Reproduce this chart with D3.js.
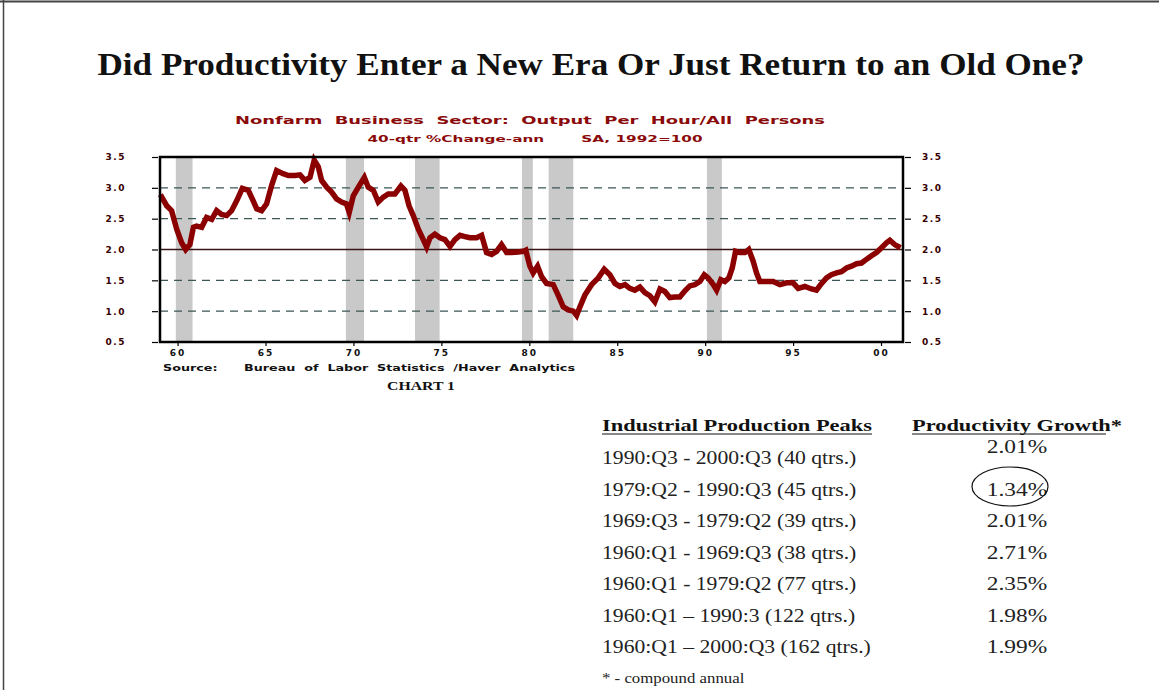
<!DOCTYPE html>
<html>
<head>
<meta charset="utf-8">
<script src="https://cdn.jsdelivr.net/npm/d3@7"></script>
<style>
  html, body { margin: 0; padding: 0; background: #fff; }
  svg { display: block; }
</style>
</head>
<body>
<svg id="chart" width="1159" height="690"></svg>
<script>
// Nonfarm business productivity, 40-quarter % change (annual rate)
const years = [
  1959.1, 1959.38, 1959.66, 1959.95, 1960.23, 1960.46, 1960.7, 1960.9, 1961.08, 1961.37,
  1961.65, 1961.94, 1962.22, 1962.5, 1962.79, 1963.07, 1963.36, 1963.68, 1964.02, 1964.3,
  1964.5, 1964.78, 1965.06, 1965.35, 1965.63, 1966.0, 1966.3, 1966.67, 1966.96, 1967.24,
  1967.53, 1967.77, 1968.0, 1968.19, 1968.48, 1968.76, 1969.04, 1969.33, 1969.6, 1969.76,
  1969.99, 1970.28, 1970.62, 1970.84, 1971.13, 1971.41, 1971.7, 1971.98, 1972.36, 1972.7,
  1972.93, 1973.16, 1973.4, 1973.69, 1973.97, 1974.16, 1974.35, 1974.63, 1974.92, 1975.2,
  1975.49, 1975.77, 1976.06, 1976.34, 1976.62, 1977.0, 1977.29, 1977.57, 1977.86, 1978.14,
  1978.42, 1978.71, 1978.99, 1979.37, 1979.66, 1979.8, 1980.03, 1980.22, 1980.47, 1980.7,
  1980.98, 1981.36, 1981.64, 1981.93, 1982.21, 1982.5, 1982.69, 1982.88, 1983.16, 1983.54,
  1983.92, 1984.26, 1984.58, 1984.87, 1985.15, 1985.44, 1985.72, 1986.0, 1986.29, 1986.57,
  1986.86, 1987.14, 1987.43, 1987.71, 1987.99, 1988.28, 1988.56, 1988.85, 1989.13, 1989.41,
  1989.7, 1989.95, 1990.17, 1990.46, 1990.65, 1990.89, 1991.12, 1991.35, 1991.54, 1991.73,
  1991.97, 1992.26, 1992.48, 1992.73, 1992.92, 1993.11, 1993.49, 1993.87, 1994.25, 1994.63,
  1995.0, 1995.29, 1995.67, 1996.05, 1996.33, 1996.62, 1996.9, 1997.18, 1997.47, 1997.75,
  1998.04, 1998.32, 1998.61, 1998.89, 1999.17, 1999.46, 1999.74, 2000.03, 2000.31, 2000.5,
  2000.78, 2000.97
];
const growth = [
  2.85, 2.71, 2.63, 2.33, 2.11, 2.0, 2.08, 2.36, 2.38, 2.36,
  2.52, 2.49, 2.63, 2.57, 2.55, 2.63, 2.79, 2.99, 2.96, 2.79,
  2.66, 2.63, 2.74, 3.04, 3.28, 3.23, 3.2, 3.2, 3.21, 3.12,
  3.17, 3.45, 3.34, 3.12, 3.01, 2.93, 2.82, 2.77, 2.74, 2.6,
  2.87, 3.01, 3.17, 3.01, 2.96, 2.77, 2.85, 2.9, 2.9, 3.03,
  2.96, 2.71, 2.55, 2.33, 2.16, 2.04, 2.19, 2.25, 2.19, 2.16,
  2.05, 2.16, 2.23, 2.21, 2.19, 2.19, 2.23, 1.95, 1.92, 1.97,
  2.08, 1.95, 1.95, 1.96, 1.97, 1.99, 1.73, 1.62, 1.73, 1.56,
  1.45, 1.43, 1.26, 1.07, 1.02, 1.0, 0.93, 1.07, 1.26, 1.43,
  1.54, 1.68, 1.59, 1.45, 1.4, 1.43, 1.37, 1.34, 1.39, 1.3,
  1.25, 1.15, 1.36, 1.32, 1.22, 1.23, 1.23, 1.33, 1.41, 1.43,
  1.48, 1.59, 1.54, 1.43, 1.34, 1.51, 1.48, 1.54, 1.7, 1.97,
  1.95, 1.95, 2.0, 1.81, 1.62, 1.48, 1.48, 1.48, 1.43, 1.46,
  1.46, 1.37, 1.4, 1.36, 1.34, 1.45, 1.54, 1.59, 1.62, 1.64,
  1.7, 1.73, 1.77, 1.78, 1.84, 1.9, 1.95, 2.03, 2.11, 2.15,
  2.08, 2.05
];

// Recession periods (shaded)
const recessionStart = [1959.9, 1969.57, 1973.5, 1979.58, 1981.1, 1990.1];
const recessionEnd   = [1960.85, 1970.6, 1974.9, 1980.2, 1982.5, 1990.95];

// Axis ticks
const yTicks = [0.5, 1.0, 1.5, 2.0, 2.5, 3.0, 3.5];
const yTickLabels = ["0.5", "1.0", "1.5", "2.0", "2.5", "3.0", "3.5"];
const xTicks = [1960, 1965, 1970, 1975, 1980, 1985, 1990, 1995, 2000];
const xTickLabels = ["60", "65", "70", "75", "80", "85", "90", "95", "00"];
const referenceLevel = 2.0;

// Table of cycle-to-cycle productivity growth
const periods = [
  "1990:Q3 - 2000:Q3 (40 qtrs.)",
  "1979:Q2 - 1990:Q3 (45 qtrs.)",
  "1969:Q3 - 1979:Q2 (39 qtrs.)",
  "1960:Q1 - 1969:Q3 (38 qtrs.)",
  "1960:Q1 - 1979:Q2 (77 qtrs.)",
  "1960:Q1 \u2013 1990:3 (122 qtrs.)",
  "1960:Q1 \u2013 2000:Q3 (162 qtrs.)"
];
const productivityGrowth = ["2.01%", "1.34%", "2.01%", "2.71%", "2.35%", "1.98%", "1.99%"];
const circledRow = 1;

const svg = d3.select("#chart");
const W = 1159, H = 690;

// Horizontal stretch applied to a text element after layout
function stretch(sel, k) {
  sel.each(function () {
    const w = this.getComputedTextLength();
    d3.select(this).attr("textLength", w * k).attr("lengthAdjust", "spacingAndGlyphs");
  });
}

// Page frame
svg.append("line").attr("x1", 0).attr("x2", W).attr("y1", 1.5).attr("y2", 1.5)
  .attr("stroke", "#444").attr("stroke-width", 2);
svg.append("line").attr("x1", 3.5).attr("x2", 3.5).attr("y1", 0).attr("y2", H)
  .attr("stroke", "#444").attr("stroke-width", 1.5);

// Main title
svg.append("text")
  .attr("x", 591).attr("y", 75)
  .attr("text-anchor", "middle")
  .attr("font-family", "'Liberation Serif', 'Times New Roman', serif")
  .attr("font-weight", "bold")
  .attr("font-size", 31)
  .attr("textLength", 987).attr("lengthAdjust", "spacingAndGlyphs")
  .attr("fill", "#111")
  .text("Did Productivity Enter a New Era Or Just Return to an Old One?");

// Plot geometry
const x = d3.scaleLinear().domain([1959, 2001.25]).range([160, 903]);
const y = d3.scaleLinear().domain([0.5, 3.5]).range([342, 157]);
const chartRed = "#8a0a0a";
const smallFont = "'DejaVu Sans', 'Liberation Sans', sans-serif";

// Chart headings
svg.append("text")
  .attr("x", 530).attr("y", 123.5).attr("text-anchor", "middle")
  .attr("font-family", smallFont).attr("font-weight", "bold").attr("font-size", 10)
  .attr("textLength", 590).attr("lengthAdjust", "spacingAndGlyphs")
  .attr("fill", chartRed)
  .attr("xml:space", "preserve")
  .text("Nonfarm  Business  Sector:  Output  Per  Hour/All  Persons");
svg.append("text")
  .attr("x", 535).attr("y", 142).attr("text-anchor", "middle")
  .attr("font-family", smallFont).attr("font-weight", "bold").attr("font-size", 9.5)
  .attr("textLength", 335).attr("lengthAdjust", "spacingAndGlyphs")
  .attr("fill", chartRed)
  .attr("xml:space", "preserve")
  .text("40-qtr %Change-ann       SA, 1992=100");

const plot = svg.append("g");

// Recession shading
plot.selectAll("rect.rec")
  .data(d3.range(recessionStart.length))
  .join("rect")
  .attr("class", "rec")
  .attr("x", i => x(recessionStart[i]))
  .attr("width", i => x(recessionEnd[i]) - x(recessionStart[i]))
  .attr("y", y(3.5)).attr("height", y(0.5) - y(3.5))
  .attr("fill", "#c9c9c9");

// Dashed gridlines
plot.selectAll("line.grid")
  .data(yTicks.filter(v => v !== referenceLevel && v !== 3.5 && v !== 0.5))
  .join("line")
  .attr("class", "grid")
  .attr("x1", x(1959)).attr("x2", x(2001.25))
  .attr("y1", d => y(d)).attr("y2", d => y(d))
  .attr("stroke", "#3d5656").attr("stroke-width", 1.2)
  .attr("stroke-dasharray", "8,6");

// Reference line at 2%
plot.append("line")
  .attr("x1", x(1959)).attr("x2", x(2001.25))
  .attr("y1", y(referenceLevel)).attr("y2", y(referenceLevel))
  .attr("stroke", "#3a1414").attr("stroke-width", 1.5);

// Productivity series
const line = d3.line()
  .x((d, i) => x(years[i]))
  .y(d => y(d));
plot.append("path")
  .datum(growth)
  .attr("d", line)
  .attr("fill", "none")
  .attr("stroke", "#8b0000")
  .attr("stroke-width", 5.5)
  .attr("stroke-linejoin", "miter")
  .attr("stroke-linecap", "square");

// Frame of the plot
plot.append("rect")
  .attr("x", x(1959)).attr("y", y(3.5))
  .attr("width", x(2001.25) - x(1959)).attr("height", y(0.5) - y(3.5))
  .attr("fill", "none").attr("stroke", "#000").attr("stroke-width", 2.5);

// Left and right value axes
const leftAxis = d3.axisLeft(y).tickValues(yTicks)
  .tickFormat((d, i) => yTickLabels[i]).tickSize(6).tickPadding(26);
const rightAxis = d3.axisRight(y).tickValues(yTicks)
  .tickFormat((d, i) => yTickLabels[i]).tickSize(6).tickPadding(11);
const gL = svg.append("g").attr("transform", `translate(${x(1959) - 2},0)`).call(leftAxis);
const gR = svg.append("g").attr("transform", `translate(${x(2001.25) + 2},0)`).call(rightAxis);
[gL, gR].forEach(g => {
  g.select(".domain").remove();
  g.selectAll(".tick line").attr("stroke", "#000").attr("stroke-width", 1.2);
  g.selectAll(".tick text")
    .attr("font-family", smallFont).attr("font-weight", "bold").attr("font-size", 9)
    .attr("letter-spacing", 1.5)
    .attr("fill", "#3a0000");
});

// Year axis
const bottomAxis = d3.axisBottom(x).tickValues(xTicks)
  .tickFormat((d, i) => xTickLabels[i]).tickSize(3).tickPadding(4);
const gB = svg.append("g").attr("transform", `translate(0,${y(0.5) + 1})`).call(bottomAxis);
gB.select(".domain").remove();
gB.selectAll(".tick line").attr("stroke", "#000").attr("stroke-width", 1.2);
gB.selectAll(".tick text")
  .attr("font-family", smallFont).attr("font-weight", "bold").attr("font-size", 9)
  .attr("letter-spacing", 2)
  .attr("fill", "#111");

// Source note and chart caption
svg.append("text")
  .attr("x", 163).attr("y", 370.5)
  .attr("font-family", smallFont).attr("font-weight", "bold").attr("font-size", 8.5)
  .attr("textLength", 412).attr("lengthAdjust", "spacingAndGlyphs")
  .attr("fill", "#111")
  .attr("xml:space", "preserve")
  .text("Source:      Bureau  of  Labor  Statistics  /Haver  Analytics");
svg.append("text")
  .attr("x", 421).attr("y", 390).attr("text-anchor", "middle")
  .attr("font-family", "'Liberation Serif', 'Times New Roman', serif")
  .attr("font-weight", "bold").attr("font-size", 13)
  .attr("textLength", 68).attr("lengthAdjust", "spacingAndGlyphs")
  .attr("fill", "#111")
  .text("CHART 1");

// Table
const serif = "'Liberation Serif', 'Times New Roman', serif";
const tableTop = 431, rowStep = 31.5;
const colA = 602, colB = 1017;

svg.append("text")
  .attr("x", colA).attr("y", tableTop)
  .attr("font-family", serif).attr("font-weight", "bold").attr("font-size", 17)
  .attr("textLength", 270).attr("lengthAdjust", "spacingAndGlyphs")
  .attr("fill", "#111")
  .text("Industrial Production Peaks");
svg.append("line").attr("x1", colA).attr("x2", colA + 270)
  .attr("y1", tableTop + 3).attr("y2", tableTop + 3)
  .attr("stroke", "#111").attr("stroke-width", 1.2);

svg.append("text")
  .attr("x", 912).attr("y", tableTop)
  .attr("font-family", serif).attr("font-weight", "bold").attr("font-size", 17)
  .attr("textLength", 210).attr("lengthAdjust", "spacingAndGlyphs")
  .attr("fill", "#111")
  .text("Productivity Growth*");
svg.append("line").attr("x1", 912).attr("x2", 1106)
  .attr("y1", tableTop + 3).attr("y2", tableTop + 3)
  .attr("stroke", "#111").attr("stroke-width", 1.2);

const rowY = i => tableTop + 33 + i * rowStep;

svg.selectAll("text.period")
  .data(periods)
  .join("text")
  .attr("class", "period")
  .attr("x", colA).attr("y", (d, i) => rowY(i))
  .attr("font-family", serif).attr("font-size", 18.5)
  .attr("fill", "#222")
  .text(d => d)
  .call(stretch, 1.17);

svg.selectAll("text.pct")
  .data(productivityGrowth)
  .join("text")
  .attr("class", "pct")
  .attr("x", colB).attr("y", (d, i) => i === 0 ? rowY(i) - 11 : rowY(i))
  .attr("text-anchor", "middle")
  .attr("font-family", serif).attr("font-size", 18)
  .attr("fill", "#222")
  .text(d => d)
  .call(stretch, 1.3);

// Highlighted 1979-1990 figure
svg.append("ellipse")
  .attr("cx", colB - 7).attr("cy", rowY(circledRow) - 9)
  .attr("rx", 38).attr("ry", 19.5)
  .attr("fill", "none").attr("stroke", "#111").attr("stroke-width", 1.2);

svg.append("text")
  .attr("x", colA).attr("y", rowY(periods.length - 1) + 30)
  .attr("font-family", serif).attr("font-size", 14)
  .attr("fill", "#222")
  .text("* - compound annual")
  .call(stretch, 1.2);
</script>
</body>
</html>
